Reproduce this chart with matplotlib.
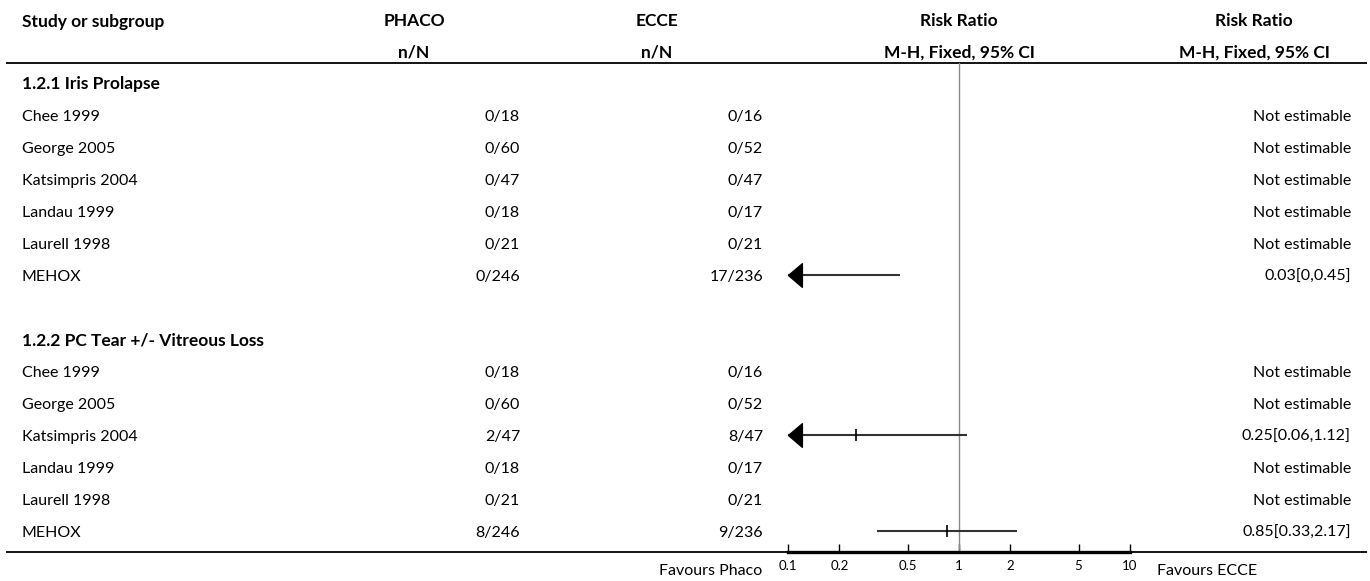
import numpy as np
import matplotlib.pyplot as plt
from matplotlib.path import Path

plt.rcParams['font.family'] = ['Lato', 'DejaVu Sans']

# data
group_titles = ["1.2.1 Iris Prolapse", "1.2.2 PC Tear +/- Vitreous Loss"]
studies = ["Chee 1999", "George 2005", "Katsimpris 2004", "Landau 1999", "Laurell 1998", "MEHOX"]

phaco_1 = ["0/18", "0/60", "0/47", "0/18", "0/21", "0/246"]
ecce_1 = ["0/16", "0/52", "0/47", "0/17", "0/21", "17/236"]
rr_1 = [None, None, None, None, None, (0.03, 0.0, 0.45)]

phaco_2 = ["0/18", "0/60", "2/47", "0/18", "0/21", "8/246"]
ecce_2 = ["0/16", "0/52", "8/47", "0/17", "0/21", "9/236"]
rr_2 = [None, None, (0.25, 0.06, 1.12), None, None, (0.85, 0.33, 2.17)]

ticks = [0.1, 0.2, 0.5, 1, 2, 5, 10]
tick_labels = ["0.1", "0.2", "0.5", "1", "2", "5", "10"]

W, H = 1370, 581
FS = 11.5
FSB = 12.5
ROW0, PITCH = 83, 32
CAP = 5.8  # half cap height in px, baseline offset

fig = plt.figure(figsize=(W / 100, H / 100), dpi=100)
ax = fig.add_axes([0, 0, 1, 1])
ax.set_xlim(0, W)
ax.set_ylim(H, 0)
ax.axis('off')

# forest axes (log scale)
x0, x1 = 788, 1130
ytop, ybot = 63, 552
fx = fig.add_axes([x0 / W, 1 - ybot / H, (x1 - x0) / W, (ybot - ytop) / H])
fx.set_xscale('log')
fx.set_xlim(0.1, 10)
fx.set_ylim((ybot - ROW0) / PITCH, (ytop - ROW0) / PITCH)
fx.patch.set_alpha(0)
for s in ['top', 'left', 'right']:
    fx.spines[s].set_visible(False)
fx.spines['bottom'].set_linewidth(2.4)
fx.set_yticks([])
fx.set_xticks(ticks)
fx.set_xticklabels(tick_labels)
fx.minorticks_off()
fx.tick_params(axis='x', direction='in', length=6, width=1, pad=6, labelsize=9.5)
fx.axvline(1, color='#888888', lw=1)

# header
def hdr(x, y, s, ha):
    ax.text(x, y, s, ha=ha, va='baseline', fontsize=FSB, fontweight='bold')

hdr(22, 26.5, "Study or subgroup", 'left')
hdr(414, 26.5, "PHACO", 'center')
hdr(414, 58, "n/N", 'center')
hdr(657, 26.5, "ECCE", 'center')
hdr(657, 58, "n/N", 'center')
for cx in [959, 1254]:
    hdr(cx, 26.5, "Risk Ratio", 'center')
    hdr(cx, 58, "M-H, Fixed, 95% CI", 'center')

ax.plot([6, 1367], [63, 63], color='black', lw=1.3, solid_capstyle='butt')
ax.plot([6, 1367], [552, 552], color='black', lw=1.3, solid_capstyle='butt')

# arrow head marker, tip at origin
head = Path([(0, 0), (1, 0.85), (1, -0.85), (0, 0)],
            [Path.MOVETO, Path.LINETO, Path.LINETO, Path.CLOSEPOLY])

def row(r, name, p, e, rr):
    y = ROW0 + PITCH * r + CAP
    ax.text(22, y, name, ha='left', va='baseline', fontsize=FS)
    ax.text(520, y, p, ha='right', va='baseline', fontsize=FS)
    ax.text(763, y, e, ha='right', va='baseline', fontsize=FS)
    if rr is None:
        ax.text(1351, y, "Not estimable", ha='right', va='baseline', fontsize=FS)
        return
    est, lo, hi = rr
    ax.text(1351, y, f"{est:g}[{lo:g},{hi:g}]", ha='right', va='baseline', fontsize=FS)
    left = max(lo, 0.1)
    fx.plot([left, hi], [r, r], color='#333333', lw=1.5, solid_capstyle='butt')
    if lo < 0.1:
        fx.plot([0.1], [r], marker=head, markersize=20, color='black', clip_on=False)
    if est >= 0.1:
        fx.plot([est], [r], marker='|', markersize=8, markeredgewidth=1.2, color='black')

r = 0
for title, ph, ec, rr in [(group_titles[0], phaco_1, ecce_1, rr_1),
                          (group_titles[1], phaco_2, ecce_2, rr_2)]:
    ax.text(22, ROW0 + PITCH * r + CAP + 0.3, title, ha='left', va='baseline',
            fontsize=FSB, fontweight='bold')
    r += 1
    for i in range(len(studies)):
        row(r, studies[i], ph[i], ec[i], rr[i])
        r += 1
    r += 1

ax.text(762, 575, "Favours Phaco", ha='right', va='baseline', fontsize=FS)
ax.text(1157, 575, "Favours ECCE", ha='left', va='baseline', fontsize=FS)

fig.savefig('out.png', dpi=100)
